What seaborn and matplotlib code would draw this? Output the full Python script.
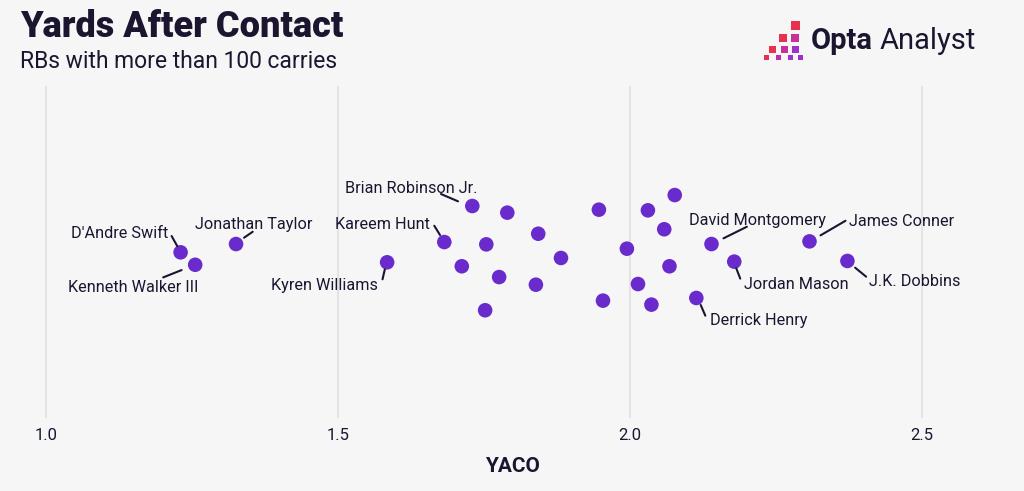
import numpy as np
import pandas as pd
import seaborn as sns
import matplotlib.pyplot as plt
from matplotlib.transforms import offset_copy
from matplotlib.patches import Rectangle

# ---------------- data ----------------
players = ["D'Andre Swift", "Kenneth Walker III", "Jonathan Taylor", "Kyren Williams",
           "Brian Robinson Jr.", "", "Kareem Hunt", "", "", "", "", "", "", "",
           "", "", "", "", "", "", "", "", "",
           "Derrick Henry", "David Montgomery", "Jordan Mason", "James Conner", "J.K. Dobbins"]
yaco = [1.230, 1.255, 1.325, 1.584,
        1.730, 1.790, 1.682, 1.754, 1.843, 1.712, 1.776, 1.839, 1.882, 1.752,
        1.947, 2.077, 2.031, 2.059, 1.995, 2.068, 2.014, 1.954, 2.037,
        2.114, 2.140, 2.179, 2.308, 2.373]
jitter = [-0.002, -0.077, 0.048, -0.062,
          0.277, 0.237, 0.060, 0.046, 0.110, -0.086, -0.151, -0.197, -0.036, -0.351,
          0.255, 0.343, 0.251, 0.137, 0.020, -0.086, -0.193, -0.293, -0.317,
          -0.277, 0.048, -0.058, 0.064, -0.054]
x_ticks = [1.0, 1.5, 2.0, 2.5]
x_tick_labels = ["1.0", "1.5", "2.0", "2.5"]

df = pd.DataFrame({"player": players, "YACO": yaco, "jitter": jitter})

# label layout (pixel offsets from the dot): text offset, ha, line start, line end
label_layout = {
    "D'Andre Swift":      ((-12.4, 20.0), "right",  (-3.4, 6.3),  (-9.0, 16.3)),
    "Kenneth Walker III": ((-62.3, -21.3), "center", (-13.6, -5.3), (-32.0, -12.6)),
    "Jonathan Taylor":    ((17.7, 20.7), "center", (8.0, 6.3),    (16.7, 12.3)),
    "Kyren Williams":     ((-9.0, -22.0), "right",  (-2.3, -7.0),  (-4.6, -17.0)),
    "Brian Robinson Jr.": ((-60.8, 19.3), "center", (-14.3, 4.7),  (-31.3, 12.0)),
    "Kareem Hunt":        ((-14.3, 19.3), "right",  (-4.3, 7.0),   (-10.0, 16.3)),
    "David Montgomery":   ((46.0, 24.7), "center",  (12.0, 5.7),   (35.4, 17.3)),
    "James Conner":       ((39.3, 21.3), "left",    (11.0, 6.0),   (36.0, 20.6)),
    "Jordan Mason":       ((9.3, -21.0), "left",    (2.0, -6.6),   (6.0, -17.0)),
    "J.K. Dobbins":       ((21.7, -19.0), "left",   (7.7, -6.7),   (18.7, -15.7)),
    "Derrick Henry":      ((13.7, -21.3), "left",   (4.4, -7.0),   (9.0, -17.7)),
}

# ---------------- style ----------------
BG = "#f6f6f6"
DOT = "#6a2bcc"
TXT = "#1c1530"
GRID = "#e4e4e4"

sns.set_theme(style="white")
plt.rcParams["font.family"] = ["Roboto", "DejaVu Sans"]

fig = plt.figure(figsize=(10.24, 4.91), dpi=100, facecolor=BG)
W, H = 1024, 491
ax_left, ax_right, ax_top, ax_bottom = 20, 1004, 86, 418
ax = fig.add_axes([ax_left / W, (H - ax_bottom) / H, (ax_right - ax_left) / W, (ax_bottom - ax_top) / H])
ax.set_facecolor(BG)

sns.scatterplot(data=df, x="YACO", y="jitter", ax=ax, color=DOT, s=110,
                edgecolor="none", zorder=3, legend=False)

ax.set_xlim(0.9547, 2.6414)
ax.set_ylim(-1, 1)
ax.set_xticks(x_ticks)
ax.set_xticklabels(x_tick_labels)
ax.set_yticks([])
ax.set_ylabel("")
ax.grid(axis="x", color=GRID, linewidth=1.6, zorder=0)
ax.grid(axis="y", visible=False)
for s in ax.spines.values():
    s.set_visible(False)
ax.tick_params(axis="x", length=0, pad=7, labelsize=12, labelcolor=TXT)
ax.set_xlabel("YACO", fontsize=15, fontweight="bold", color=TXT, labelpad=10)

# ---------------- labels ----------------
for _, row in df.iterrows():
    name = row["player"]
    if name not in label_layout:
        continue
    (tdx, tdy), ha, (sdx, sdy), (edx, edy) = label_layout[name]
    tr_text = offset_copy(ax.transData, fig=fig, x=tdx, y=tdy, units="dots")
    ax.text(row["YACO"], row["jitter"], name, transform=tr_text, ha=ha, va="center_baseline",
            fontsize=11.7, color=TXT, zorder=4)
    tr_a = offset_copy(ax.transData, fig=fig, x=sdx, y=sdy, units="dots")
    tr_b = offset_copy(ax.transData, fig=fig, x=edx, y=edy, units="dots")
    ax.annotate("", xy=(row["YACO"], row["jitter"]), xycoords=tr_b,
                xytext=(row["YACO"], row["jitter"]), textcoords=tr_a,
                arrowprops=dict(arrowstyle="-", color=TXT, lw=1.5, shrinkA=0, shrinkB=0),
                zorder=4)

# ---------------- titles ----------------
fig.text(20 / W, 1 - 27 / H, "Yards After Contact", fontsize=26, fontweight="heavy",
         color=TXT, ha="left", va="center")
fig.text(20 / W, 1 - 61 / H, "RBs with more than 100 carries", fontsize=16.5,
         color=TXT, ha="left", va="center")

# ---------------- logo ----------------
squares = [  # (x, y_top, size, color) in pixels
    (791, 21, 9, "#e8304f"),
    (779, 34, 8, "#e8304f"), (791, 34, 8, "#c8309a"),
    (769, 46, 6.5, "#e8304f"), (781, 46, 6.5, "#c8309a"), (792, 46, 6.5, "#a030c8"),
    (764, 55, 4.5, "#e8304f"), (776, 55, 4.5, "#b830b0"), (788, 55, 4.5, "#a030c8"),
    (798, 55, 4.5, "#9a30d0"),
]
for (sx, sy, sz, c) in squares:
    fig.patches.append(Rectangle((sx / W, 1 - (sy + sz) / H), sz / W, sz / H,
                                 transform=fig.transFigure, facecolor=c, edgecolor="none"))
fig.text(811 / W, 1 - 41 / H, "Opta", fontsize=21, fontweight="bold", color=TXT,
         ha="left", va="center")
fig.text(880 / W, 1 - 41 / H, "Analyst", fontsize=21, color=TXT, ha="left", va="center")

fig.savefig("out.png", dpi=100, facecolor=BG)
